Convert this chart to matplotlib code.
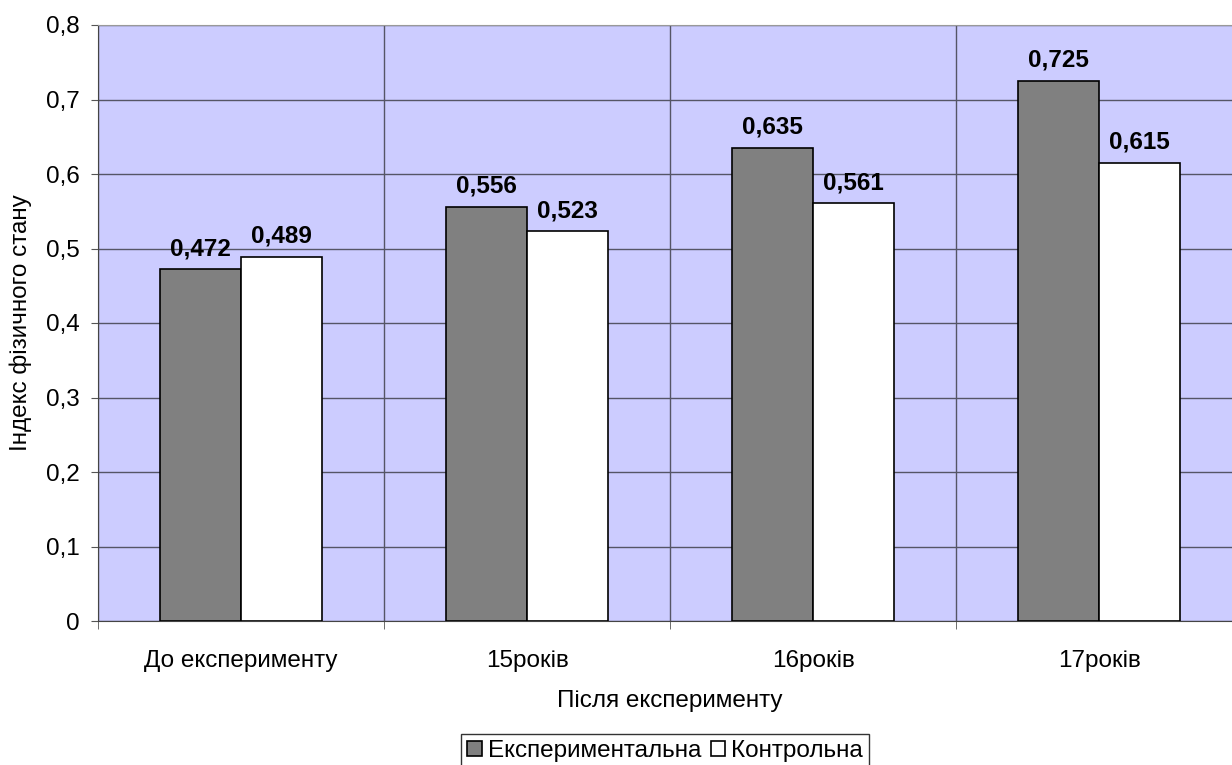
import matplotlib.pyplot as plt
import numpy as np

plt.rcParams['font.family'] = ['Liberation Sans', 'DejaVu Sans']

categories = ["До експерименту", "15років", "16років", "17років"]
experimental = [0.472, 0.556, 0.635, 0.725]
control = [0.489, 0.523, 0.561, 0.615]
series_names = ["Експериментальна", "Контрольна"]

FS = 17.5

fig = plt.figure(figsize=(12.32, 7.65), dpi=100)
ax = fig.add_axes([98 / 1232, 1 - 621 / 765, 1144 / 1232, 596 / 765])

x = np.arange(len(categories))
w = 0.283
b1 = ax.bar(x - w / 2, experimental, w, color="#808080", edgecolor="black", linewidth=1.2,
            label=series_names[0], zorder=3)
b2 = ax.bar(x + w / 2, control, w, color="white", edgecolor="black", linewidth=1.2,
            label=series_names[1], zorder=3)

for bars, vals in ((b1, experimental), (b2, control)):
    for r, v in zip(bars, vals):
        ax.text(r.get_x() + r.get_width() / 2, v + 0.012, f"{v:.3f}".replace(".", ","),
                ha="center", va="bottom", fontsize=FS, fontweight="bold", zorder=4)

ax.set_facecolor("#CCCCFF")
ax.set_xlim(-0.5, len(categories) - 0.5)
ax.set_ylim(0, 0.8)
yt = np.arange(0, 0.81, 0.1)
ax.set_yticks(yt)
ax.set_yticklabels(["0"] + [f"{v:.1f}".replace(".", ",") for v in yt[1:]], fontsize=FS)
ax.set_xticks(x)
ax.set_xticklabels(categories, fontsize=FS)
ax.set_xticks(np.arange(-0.5, len(categories)), minor=True)
ax.tick_params(axis="x", which="major", length=0, pad=21)
ax.tick_params(axis="x", which="minor", length=6, direction="out", color="#555555")
ax.tick_params(axis="y", length=5, direction="out", color="#555555", pad=8)
ax.grid(axis="y", color="#555566", linewidth=1, zorder=1)
ax.grid(axis="x", which="minor", color="#555566", linewidth=1, zorder=1)
for s in ("left", "bottom"):
    ax.spines[s].set_color("#444444")
ax.spines["top"].set_color("#999999")
ax.spines["right"].set_visible(False)

ax.set_xlabel("Після експерименту", fontsize=FS, labelpad=13)
ax.set_ylabel("Індекс фізичного стану", fontsize=FS, labelpad=10)

leg = fig.legend(handles=[b1, b2], labels=series_names, loc="upper left",
                 bbox_to_anchor=(461 / 1232, 1 - 734 / 765),
                 ncol=2, fontsize=FS, frameon=True, fancybox=False, edgecolor="black",
                 handlelength=0.6, handleheight=0.6, handletextpad=0.25, columnspacing=0.4,
                 borderpad=0.25, borderaxespad=0)
leg.get_frame().set_linewidth(1)

fig.savefig("out.png", dpi=100)
